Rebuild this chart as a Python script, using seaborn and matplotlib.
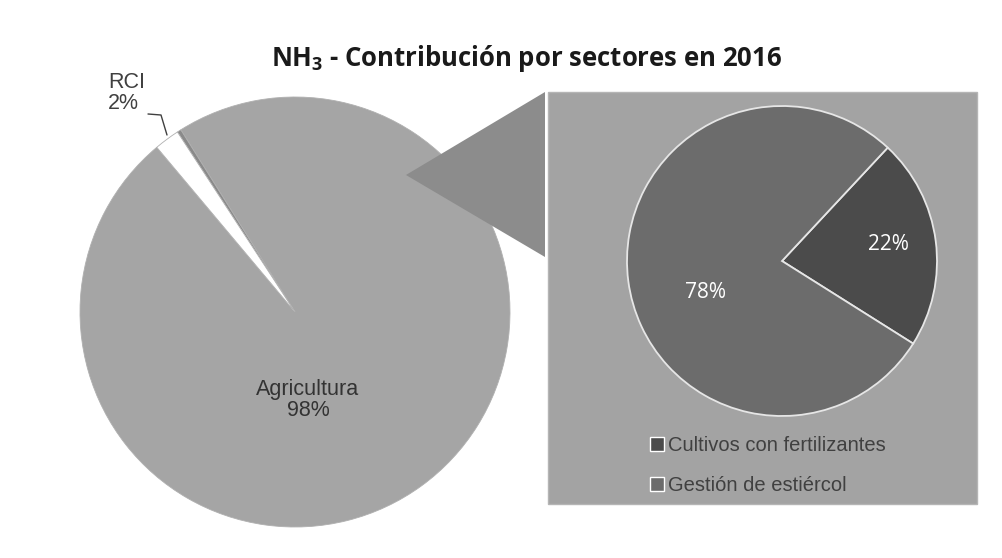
import matplotlib
matplotlib.use("Agg")
import seaborn as sns
from matplotlib import pyplot as plt
from matplotlib.patches import Rectangle, Polygon
import numpy as np

# data
main_labels = ["Agricultura", "Otros", "RCI"]
main_values = [97.8, 0.3, 1.9]
main_pct_text = ["98%", "", "2%"]
sub_labels = ["Cultivos con fertilizantes", "Gestión de estiércol"]
sub_values = [22, 78]
sub_pct_text = ["22%", "78%"]

W, H = 1003, 558

sns.set_theme(style="white")
plt.rcParams["font.family"] = ["Liberation Sans", "DejaVu Sans"]
plt.rcParams["mathtext.fontset"] = "custom"
plt.rcParams["mathtext.rm"] = "Open Sans:bold"

fig = plt.figure(figsize=(W / 100, H / 100), dpi=100)
ax = fig.add_axes([0, 0, 1, 1])

# big pie (pixel coordinates, y measured from bottom)
c_main = (295, H - 312)
r_main = 215
main_colors = ["#a5a5a5", "#8a8a8a", "#ffffff"]
wedges, _ = ax.pie(main_values, colors=main_colors, startangle=130,
                   center=c_main, radius=r_main, frame=True,
                   wedgeprops=dict(linewidth=0.6, edgecolor="#b0b0b0"))
for w in wedges:
    w.set_zorder(1)
ax.text(c_main[0] + 13, c_main[1] - 88, f"{main_labels[0]}\n{main_pct_text[0]}",
        ha="center", va="center", fontsize=15.5, color="#333333",
        linespacing=1.05, zorder=5)
ax.text(108, H - 93, f"{main_labels[2]}\n{main_pct_text[2]}", ha="left",
        va="center", fontsize=15.5, color="#404040", linespacing=1.05)
ax.plot([148, 161, 167], [H - 114, H - 115, H - 135], color="#404040", lw=1)

# box with secondary pie
box_x0, box_y0, box_x1, box_y1 = 548, 92, 977, 504
ax.add_patch(Rectangle((box_x0, H - box_y1), box_x1 - box_x0, box_y1 - box_y0,
                       facecolor="#a3a3a3", edgecolor="#b5b5b5", lw=1, zorder=2))

# connector triangle from big pie to the box
ang = np.deg2rad(51)
apex = (c_main[0] + 0.82 * r_main * np.cos(ang), c_main[1] + 0.82 * r_main * np.sin(ang))
ax.add_patch(Polygon([apex, (box_x0 - 3, H - box_y0), (box_x0 - 3, H - 257)],
                     closed=True, facecolor="#8c8c8c", edgecolor="none", zorder=3))

c_sub = (782, H - 261)
r_sub = 155
sub_colors = ["#4b4b4b", "#6c6c6c"]
sub_wedges, _ = ax.pie(sub_values, colors=sub_colors, startangle=-32.2,
                       center=c_sub, radius=r_sub, frame=True,
                       wedgeprops=dict(linewidth=1.3, edgecolor="#e6e6e6"))
for w in sub_wedges:
    w.set_zorder(4)
ax.text(888, H - 245, sub_pct_text[0], ha="center", va="center", color="white",
        fontsize=15, family=["Open Sans", "DejaVu Sans"], zorder=6)
ax.text(706, H - 293, sub_pct_text[1], ha="center", va="center", color="white",
        fontsize=15, family=["Open Sans", "DejaVu Sans"], zorder=6)

leg = ax.legend(sub_wedges, sub_labels, loc="upper left",
                bbox_to_anchor=(632 / W, 1 - 418 / H), frameon=False,
                handlelength=0.7, handleheight=0.7, handletextpad=0.2,
                labelspacing=1.05, labelcolor="#404040",
                prop={"family": ["Liberation Sans", "DejaVu Sans"], "size": 14.5})
for h in leg.legend_handles:
    h.set_edgecolor("white")
    h.set_linewidth(1.0)

ax.text(527, H - 59, "NH$_3$ - Contribución por sectores en 2016", ha="center",
        va="center", fontsize=18.5, fontweight="bold", color="#1a1a1a",
        family=["Open Sans", "DejaVu Sans"])

ax.set_xlim(0, W)
ax.set_ylim(0, H)
ax.set_aspect("auto")
ax.axis("off")

fig.savefig("out.png", dpi=100)
